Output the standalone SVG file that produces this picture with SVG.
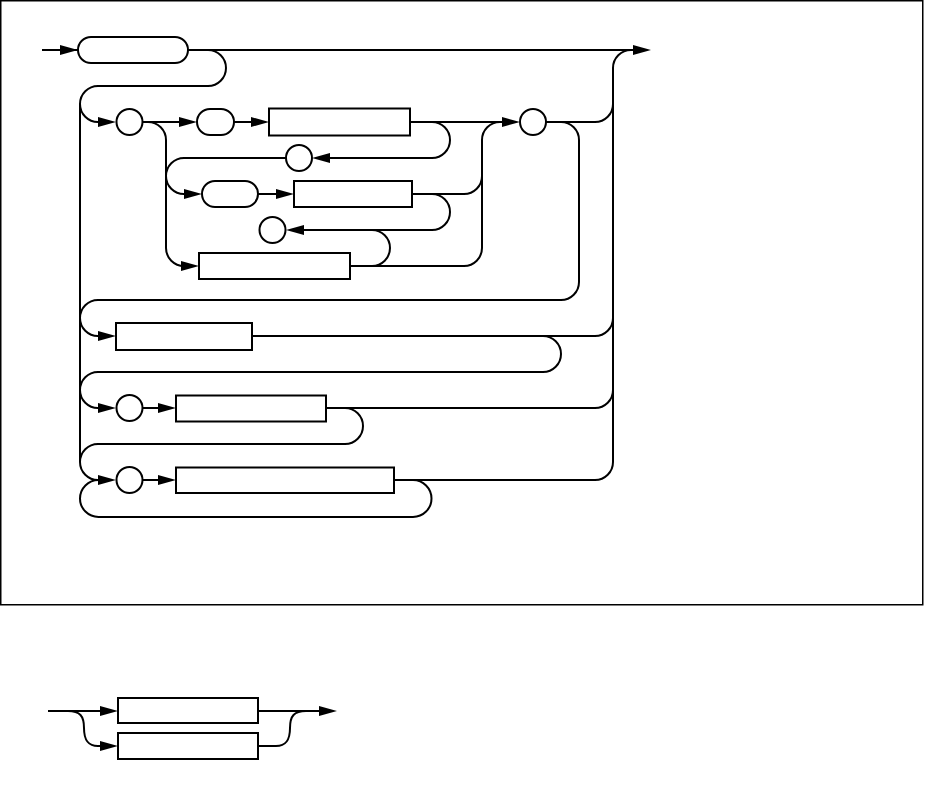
<svg xmlns="http://www.w3.org/2000/svg" xmlns:xlink="http://www.w3.org/1999/xlink" width="925" height="801" viewBox="0 0 925 801">
<style>
.ln{fill:none;stroke:#000;stroke-width:2}
.nd{fill:#fff;stroke:#000;stroke-width:2}
.ah{fill:#000;stroke:none}
</style>
<defs>
<path id="ar" d="M0,0 L-18,-5 L-18,5 Z"/>
<path id="al" d="M0,0 L18,-5 L18,5 Z"/>
</defs>
<rect x="0.75" y="0.75" width="922" height="604" fill="#fff" stroke="#000" stroke-width="1.5"/>
<g id="connectors">
<path class="ln" d="M42,50 H78"/>
<path class="ln" d="M188,50 H640"/>
<path class="ln" d="M188,50 H208 A18,18 0 0 1 208,86 H98 A18,18 0 0 0 80,104 V462 A18,18 0 0 0 98,480 H110"/>
<path class="ln" d="M80,104 A18,18 0 0 0 98,122 H110"/>
<path class="ln" d="M143,122 H190"/>
<path class="ln" d="M234,122 H262"/>
<path class="ln" d="M410,122 H512"/>
<path class="ln" d="M410,122 H432 A18,18 0 0 1 450,140 A18,18 0 0 1 432,158 H318"/>
<path class="ln" d="M286,158 H184 A18,18 0 0 0 166,176 A18,18 0 0 0 184,194 H196"/>
<path class="ln" d="M143,122 H148 A18,18 0 0 1 166,140 V248 A18,18 0 0 0 184,266 H193"/>
<path class="ln" d="M258,194 H288"/>
<path class="ln" d="M412,194 H464 A18,18 0 0 0 482,176"/>
<path class="ln" d="M432,194 A18,18 0 0 1 450,212 A18,18 0 0 1 432,230 H292"/>
<path class="ln" d="M350,266 H464 A18,18 0 0 0 482,248 V140 A18,18 0 0 1 500,122 H512"/>
<path class="ln" d="M372,266 A18,18 0 0 0 390,248 A18,18 0 0 0 372,230"/>
<path class="ln" d="M546,122 H595 A18,18 0 0 0 613,104"/>
<path class="ln" d="M546,122 H561 A18,18 0 0 1 579,140 V282 A18,18 0 0 1 561,300 H98 A18,18 0 0 0 80,318 A18,18 0 0 0 98,336 H110"/>
<path class="ln" d="M631,50 A18,18 0 0 0 613,68 V462 A18,18 0 0 1 595,480 H394"/>
<path class="ln" d="M252,336 H595 A18,18 0 0 0 613,318"/>
<path class="ln" d="M543,336 A18,18 0 0 1 561,354 A18,18 0 0 1 543,372 H98 A18,18 0 0 0 80,390 A18,18 0 0 0 98,408 H110"/>
<path class="ln" d="M143,408 H170"/>
<path class="ln" d="M326,408 H595 A18,18 0 0 0 613,390"/>
<path class="ln" d="M345,408 A18,18 0 0 1 363,426 A18,18 0 0 1 345,444 H98 A18,18 0 0 0 80,462"/>
<path class="ln" d="M143,480 H170"/>
<path class="ln" d="M413,480 A18.5,18.5 0 0 1 431.5,498.5 A18.5,18.5 0 0 1 413,517 H98.5 A18.5,18.5 0 0 1 80,498.5 A18.5,18.5 0 0 1 98.5,480"/>
<path class="ln" d="M48,711 H112"/>
<path class="ln" d="M68,711 C80,711 84,716 84,728 C84,740 88,746 98,746 H112"/>
<path class="ln" d="M258,711 H330"/>
<path class="ln" d="M258,746 H276 C286,746 290,740 290,728 C290,716 294,711 306,711"/>
<g class="ah">
<use xlink:href="#ar" x="78" y="50"/>
<use xlink:href="#ar" x="651" y="50"/>
<use xlink:href="#ar" x="116" y="122"/>
<use xlink:href="#ar" x="197" y="122"/>
<use xlink:href="#ar" x="269" y="122"/>
<use xlink:href="#ar" x="520" y="122"/>
<use xlink:href="#al" x="312" y="158"/>
<use xlink:href="#ar" x="202" y="194"/>
<use xlink:href="#ar" x="294" y="194"/>
<use xlink:href="#al" x="286" y="230"/>
<use xlink:href="#ar" x="199" y="266"/>
<use xlink:href="#ar" x="116" y="336"/>
<use xlink:href="#ar" x="116" y="408"/>
<use xlink:href="#ar" x="176" y="408"/>
<use xlink:href="#ar" x="116" y="480"/>
<use xlink:href="#ar" x="176" y="480"/>
<use xlink:href="#ar" x="118" y="711"/>
<use xlink:href="#ar" x="118" y="746"/>
<use xlink:href="#ar" x="337" y="711"/>
</g>
</g>
<g id="start"><rect class="nd" x="78" y="37" width="110" height="26" rx="13"/></g>
<g id="c1"><circle class="nd" cx="129.5" cy="122" r="13"/></g>
<g id="s1"><rect class="nd" x="197" y="109" width="37" height="26" rx="13"/></g>
<g id="r1"><rect class="nd" x="269" y="108.5" width="141" height="27"/></g>
<g id="c2"><circle class="nd" cx="533" cy="122" r="13"/></g>
<g id="c3"><circle class="nd" cx="299" cy="158" r="13"/></g>
<g id="s2"><rect class="nd" x="202" y="181" width="56" height="26" rx="13"/></g>
<g id="r2"><rect class="nd" x="294" y="181" width="118" height="26"/></g>
<g id="c4"><circle class="nd" cx="272.5" cy="230" r="13"/></g>
<g id="r3"><rect class="nd" x="199" y="253" width="151" height="26"/></g>
<g id="r4"><rect class="nd" x="116" y="323" width="136" height="27"/></g>
<g id="c5"><circle class="nd" cx="129.5" cy="408" r="13"/></g>
<g id="r5"><rect class="nd" x="176" y="395.5" width="150" height="26"/></g>
<g id="c6"><circle class="nd" cx="129.5" cy="480" r="13"/></g>
<g id="r6"><rect class="nd" x="176" y="467.5" width="218" height="25.5"/></g>
<g id="b1"><rect class="nd" x="118" y="698" width="140" height="25"/></g>
<g id="b2"><rect class="nd" x="118" y="733" width="140" height="26"/></g>
</svg>
